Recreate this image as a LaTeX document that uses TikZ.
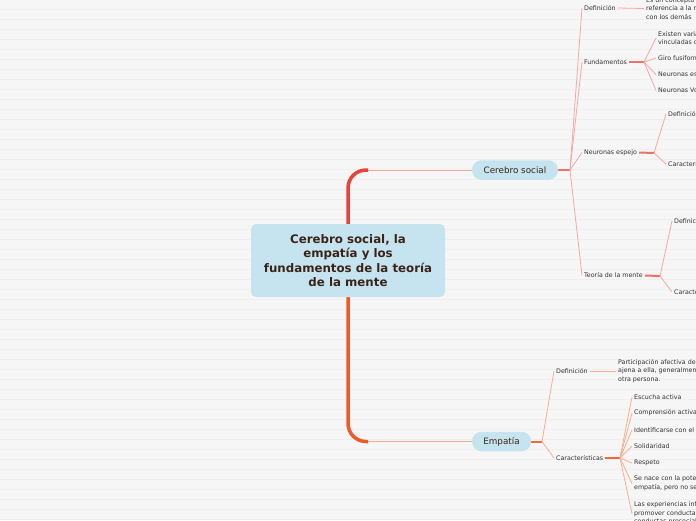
\documentclass[tikz,border=0pt]{standalone}
\usepackage{fontspec}
\setmainfont{DejaVu Sans}
\usetikzlibrary{positioning}
\definecolor{paper}{HTML}{F6F6F6}
\definecolor{stripe}{HTML}{EFEFEF}
\definecolor{topic}{HTML}{C5E4F0}
\definecolor{ink}{HTML}{3A2418}
\definecolor{txt}{HTML}{333333}
\definecolor{spinered}{HTML}{E8433A}
\definecolor{spineor}{HTML}{EE5A2B}
\definecolor{pinkline}{HTML}{F5A8A2}
\definecolor{pinkstub}{HTML}{F07068}
\definecolor{peachline}{HTML}{F8AE8E}
\definecolor{peachstub}{HTML}{F2673A}
\pgfdeclarelayer{back}
\pgfsetlayers{back,main}

\begin{document}
\begin{tikzpicture}[x=1pt,y=-1pt,
    every node/.style={inner sep=2pt,anchor=west,align=left,text=txt,font=\fontsize{6.3}{8.5}\selectfont},
    root/.style={anchor=center,align=center,fill=topic,rounded corners=5pt,minimum width=194pt,minimum height=73pt,text=ink,font=\bfseries\fontsize{11.8}{14.2}\selectfont},
    topicbox/.style={anchor=center,fill=topic,rounded corners=9.5pt,minimum height=19.5pt,text=ink,font=\fontsize{8.8}{10}\selectfont},
    redspine/.style={spinered,line width=3.5pt,rounded corners=18pt},
    orspine/.style={spineor,line width=3.5pt,rounded corners=18pt},
    linkr/.style={pinkline,line width=0.8pt},
    stubr/.style={pinkstub,line width=2pt},
    linko/.style={peachline,line width=0.8pt},
    stubo/.style={peachstub,line width=2pt}]
  \useasboundingbox (0,0) rectangle (696,520);
  \clip (0,0) rectangle (696,520);

  % central topic and main topics
  \node[root] (root) at (348,260.5) {Cerebro social, la\\ empatía y los\\ fundamentos de la teoría\\ de la mente};
  \node[topicbox,minimum width=86pt] (cs) at (515,170) {Cerebro social};
  \node[topicbox,minimum width=59pt] (emp) at (501.5,441.5) {Empatía};
  \coordinate (ct) at (368,170);
  \coordinate (cb) at (368,441.5);

  % Cerebro social
  \coordinate (j1) at (570,170);
  \node (d1) at (582,8) {Definición};
  \node (f1) at (582,62) {Fundamentos};
  \node (n1) at (582,152.5) {Neuronas espejo};
  \node (t1) at (582,275.5) {Teoría de la mente};
  \node (d1t) at (644,8.5) {Es un concepto que hace\\ referencia a la relación\\ con los demás};
  \coordinate (jf) at (644,62);
  \node (f2) at (656,38) {Existen varias áreas\\ vinculadas con el cerebro};
  \node (f3) at (656,58) {Giro fusiforme};
  \node (f4) at (656,74.5) {Neuronas espejo};
  \node (f5) at (656,90.5) {Neuronas Von Economo};
  \coordinate (jn) at (654,153);
  \node (n2) at (666,114) {Definición};
  \node (n3) at (666,164) {Características};
  \coordinate (jt) at (660,276);
  \node (t2) at (672,221) {Definición};
  \node (t3) at (672,292) {Características};

  % Empatía
  \coordinate (je) at (542,441.5);
  \node (e1) at (554,371) {Definición};
  \node (e2) at (554,458) {Características};
  \node (e1t) at (616,371) {Participación afectiva de una persona\\ ajena a ella, generalmente en los\\ otra persona.};
  \coordinate (jc) at (620,458);
  \node (c1) at (632,397) {Escucha activa};
  \node (c2) at (632,413) {Comprensión activa};
  \node (c3) at (632,430) {Identificarse con el otro};
  \node (c4) at (632,446) {Solidaridad};
  \node (c5) at (632,463) {Respeto};
  \node (c6) at (632,483.5) {Se nace con la potencialidad de la\\ empatía, pero no se desarrolla};
  \node (c7) at (632,513.5) {Las experiencias infantiles pueden\\ promover conductas empáticas o\\ conductas prosociales};

  \begin{pgfonlayer}{back}
    \fill[paper] (0,0) rectangle (696,520);
    \foreach \y in {9,19,...,519}
      \draw[stripe,line width=1pt] (0,\y) -- (696,\y);
    \draw[redspine] (root.center) |- (ct);
    \draw[orspine] (root.center) |- (cb);
    \draw[pinkline,line width=1pt] (ct) -- (cs.west);
    \draw[peachline,line width=1pt] (cb) -- (emp.west);
    % links
    \draw[stubr] (cs.east) -- (j1);
    \foreach \n in {d1,f1,n1,t1}
      \draw[linkr] (j1) -- (\n.west);
    \draw[linkr] (d1.east) -- (d1t.west);
    \draw[stubr] (f1.east) -- (jf);
    \foreach \n in {f2,f3,f4,f5}
      \draw[linkr] (jf) -- (\n.west);
    \draw[stubr] (n1.east) -- (jn);
    \foreach \n in {n2,n3}
      \draw[linkr] (jn) -- (\n.west);
    \draw[stubr] (t1.east) -- (jt);
    \foreach \n in {t2,t3}
      \draw[linkr] (jt) -- (\n.west);
    \draw[stubo] (emp.east) -- (je);
    \foreach \n in {e1,e2}
      \draw[linko] (je) -- (\n.west);
    \draw[linko] (e1.east) -- (e1t.west);
    \draw[stubo] (e2.east) -- (jc);
    \foreach \n in {c1,c2,c3,c4,c5,c6,c7}
      \draw[linko] (jc) -- (\n.west);
  \end{pgfonlayer}
\end{tikzpicture}
\end{document}
